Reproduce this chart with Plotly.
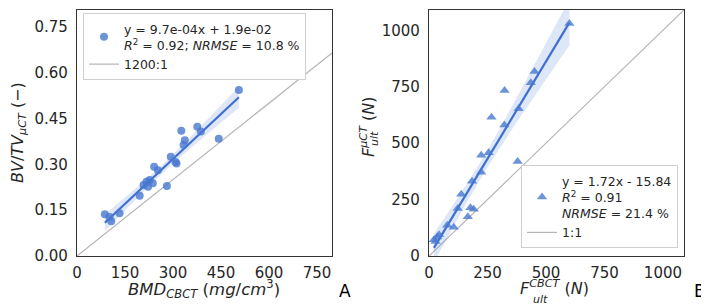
import numpy as np
import plotly.graph_objects as go

# ---------------- data ----------------
bmd_cbct = [87, 102, 107, 133, 196, 208, 217, 227, 222, 237, 241, 253, 281, 293,
            308, 311, 326, 337, 333, 376, 387, 443, 506]
bvtv_uct = [0.137, 0.128, 0.114, 0.140, 0.197, 0.232, 0.243, 0.249, 0.227, 0.238,
            0.292, 0.281, 0.229, 0.325, 0.308, 0.303, 0.410, 0.379, 0.363, 0.423,
            0.407, 0.384, 0.543]

f_cbct = [21, 35, 43, 28, 78, 106, 123, 138, 166, 177, 191, 184, 223, 223, 255,
          267, 322, 323, 379, 383, 435, 451, 600]
f_uct = [72, 84, 94, 64, 136, 127, 210, 274, 174, 214, 207, 331, 371, 446, 458,
         615, 581, 733, 419, 652, 768, 817, 1030]

ticks_a_x = [0, 150, 300, 450, 600, 750]
ticks_a_y = [0.00, 0.15, 0.30, 0.45, 0.60, 0.75]
ticks_b = [0, 250, 500, 750, 1000]

legend_a = "y = 9.7e-04x + 1.9e-02<br><i>R</i><sup>2</sup> = 0.92; <i>NRMSE</i> = 10.8 %"
legend_b = "y = 1.72x - 15.84<br><i>R</i><sup>2</sup> = 0.91<br><i>NRMSE</i> = 21.4 %"
ref_ratio_a = 1200.0
ref_name_a = "1200:1"
ref_name_b = "1:1"

# ---------------- helpers ----------------
# the page body has an 8 px margin, so the figure is drawn 8 px in from the window corner
OFF = 8
W, H = 709 - OFF, 308 - OFF
def px(x):
    return (x - OFF) / W
def py(y):
    return 1 - (y - OFF) / H

BLUE = "#4878d0"
LINE_BLUE = "#3e6fd0"
BAND = "rgba(72,120,208,0.18)"
GRAY = "#b5b5b5"
TXT = "#262626"
FONT = "DejaVu Sans"
LEG_SIZE = 12.5


def fit_band(x, y):
    x = np.asarray(x, float)
    y = np.asarray(y, float)
    slope, intercept = np.polyfit(x, y, 1)
    xs = np.linspace(x.min(), x.max(), 100)
    yhat = intercept + slope * xs
    n = len(x)
    resid = y - (intercept + slope * x)
    s = np.sqrt(np.sum(resid ** 2) / (n - 2))
    mx = x.mean()
    se = s * np.sqrt(1 / n + (xs - mx) ** 2 / np.sum((x - mx) ** 2))
    t = 2.08
    return xs, yhat, yhat - t * se, yhat + t * se


fig = go.Figure()

# ---- panel A ----
xa_max, ya_max = 797, 0.805
xr = np.array([0, xa_max])
fig.add_trace(go.Scatter(x=xr, y=xr / ref_ratio_a, mode="lines",
                         line=dict(color=GRAY, width=1.2), name=ref_name_a,
                         legend="legend", legendrank=2, xaxis="x", yaxis="y"))
xs, yh, lo, hi = fit_band(bmd_cbct, bvtv_uct)
fig.add_trace(go.Scatter(x=np.concatenate([xs, xs[::-1]]), y=np.concatenate([lo, hi[::-1]]),
                         fill="toself", fillcolor=BAND, line=dict(width=0), mode="lines",
                         showlegend=False, hoverinfo="skip", xaxis="x", yaxis="y"))
fig.add_trace(go.Scatter(x=xs, y=yh, mode="lines", line=dict(color=LINE_BLUE, width=2.2),
                         showlegend=False, xaxis="x", yaxis="y"))
fig.add_trace(go.Scatter(x=bmd_cbct, y=bvtv_uct, mode="markers",
                         marker=dict(color=BLUE, size=8, opacity=0.8, symbol="circle"),
                         name=legend_a, legend="legend", legendrank=1, xaxis="x", yaxis="y"))

# ---- panel B ----
b_max = 1090
xr = np.array([0, b_max])
fig.add_trace(go.Scatter(x=xr, y=xr, mode="lines", line=dict(color=GRAY, width=1.2),
                         name=ref_name_b, legend="legend2", legendrank=2,
                         xaxis="x2", yaxis="y2"))
xs, yh, lo, hi = fit_band(f_cbct, f_uct)
fig.add_trace(go.Scatter(x=np.concatenate([xs, xs[::-1]]), y=np.concatenate([lo, hi[::-1]]),
                         fill="toself", fillcolor=BAND, line=dict(width=0), mode="lines",
                         showlegend=False, hoverinfo="skip", xaxis="x2", yaxis="y2"))
fig.add_trace(go.Scatter(x=xs, y=yh, mode="lines", line=dict(color=LINE_BLUE, width=2.2),
                         showlegend=False, xaxis="x2", yaxis="y2"))
fig.add_trace(go.Scatter(x=f_cbct, y=f_uct, mode="markers",
                         marker=dict(color=BLUE, size=9, opacity=0.8, symbol="triangle-up"),
                         name=legend_b, legend="legend2", legendrank=1,
                         xaxis="x2", yaxis="y2"))

axis_common = dict(showline=True, mirror=True, linecolor="#333333", linewidth=1.3,
                   showgrid=False, zeroline=False, ticks="outside",
                   automargin=False,
                   tickcolor="rgba(0,0,0,0)", tickfont=dict(family=FONT, size=15, color=TXT))

ydom = [py(256), py(10)]
fig.update_layout(
    width=W, height=H, margin=dict(l=0, r=0, t=0, b=0, autoexpand=False),
    paper_bgcolor="white", plot_bgcolor="white",
    font=dict(family=FONT, color=TXT),
    xaxis=dict(domain=[px(77), px(332)], range=[0, xa_max], tickvals=ticks_a_x,
               anchor="y", ticklen=3, **axis_common),
    yaxis=dict(domain=ydom, range=[0, ya_max], tickvals=ticks_a_y, tickformat=".2f",
               anchor="x", ticklen=5, **axis_common),
    xaxis2=dict(domain=[px(429), px(684)], range=[0, b_max], tickvals=ticks_b,
                anchor="y2", ticklen=3, **axis_common),
    yaxis2=dict(domain=ydom, range=[0, b_max], tickvals=ticks_b, anchor="x2",
                ticklen=5, **axis_common),
    legend=dict(x=px(83), y=py(13), xanchor="left", yanchor="top",
                bgcolor="white", bordercolor="#d0d0d0", borderwidth=1,
                font=dict(family=FONT, size=LEG_SIZE, color=TXT), tracegroupgap=2),
    legend2=dict(x=px(678), y=py(248), xanchor="right", yanchor="bottom",
                 bgcolor="white", bordercolor="#d0d0d0", borderwidth=1,
                 font=dict(family=FONT, size=LEG_SIZE, color=TXT), tracegroupgap=2),
    showlegend=True,
)

ann = []
def add(text, x, y, size=15, angle=0, xanchor="center", yanchor="middle", color=TXT):
    ann.append(dict(text=text, x=px(x), y=py(y), xref="paper", yref="paper",
                    showarrow=False, textangle=angle, xanchor=xanchor, yanchor=yanchor,
                    font=dict(family=FONT, size=size, color=color)))

# axis titles
add("<i>BMD</i><sub><i>CBCT</i></sub> (<i>mg</i>/<i>cm</i><sup>3</sup>)", 204, 289, size=16.5)
add("<i>BV</i>/<i>TV</i><sub><i>μCT</i></sub> (−)", 18, 133, angle=-90, size=16)
add("<i>F</i><sup><i>CBCT</i></sup> (<i>N</i>)", 518, 287, xanchor="left", size=16)
add("<i>ult</i>", 531, 299, size=11, xanchor="left")
add("<i>F</i><sup><i>μCT</i></sup> (<i>N</i>)", 367, 127, angle=-90, size=16)
add("<i>ult</i>", 374, 138, size=11, angle=-90)
# panel letters
add("A", 345, 291, size=17, color="black")
add("B", 700, 291, size=17, color="black")

fig.update_layout(annotations=ann)
fig.write_html("out.html")
